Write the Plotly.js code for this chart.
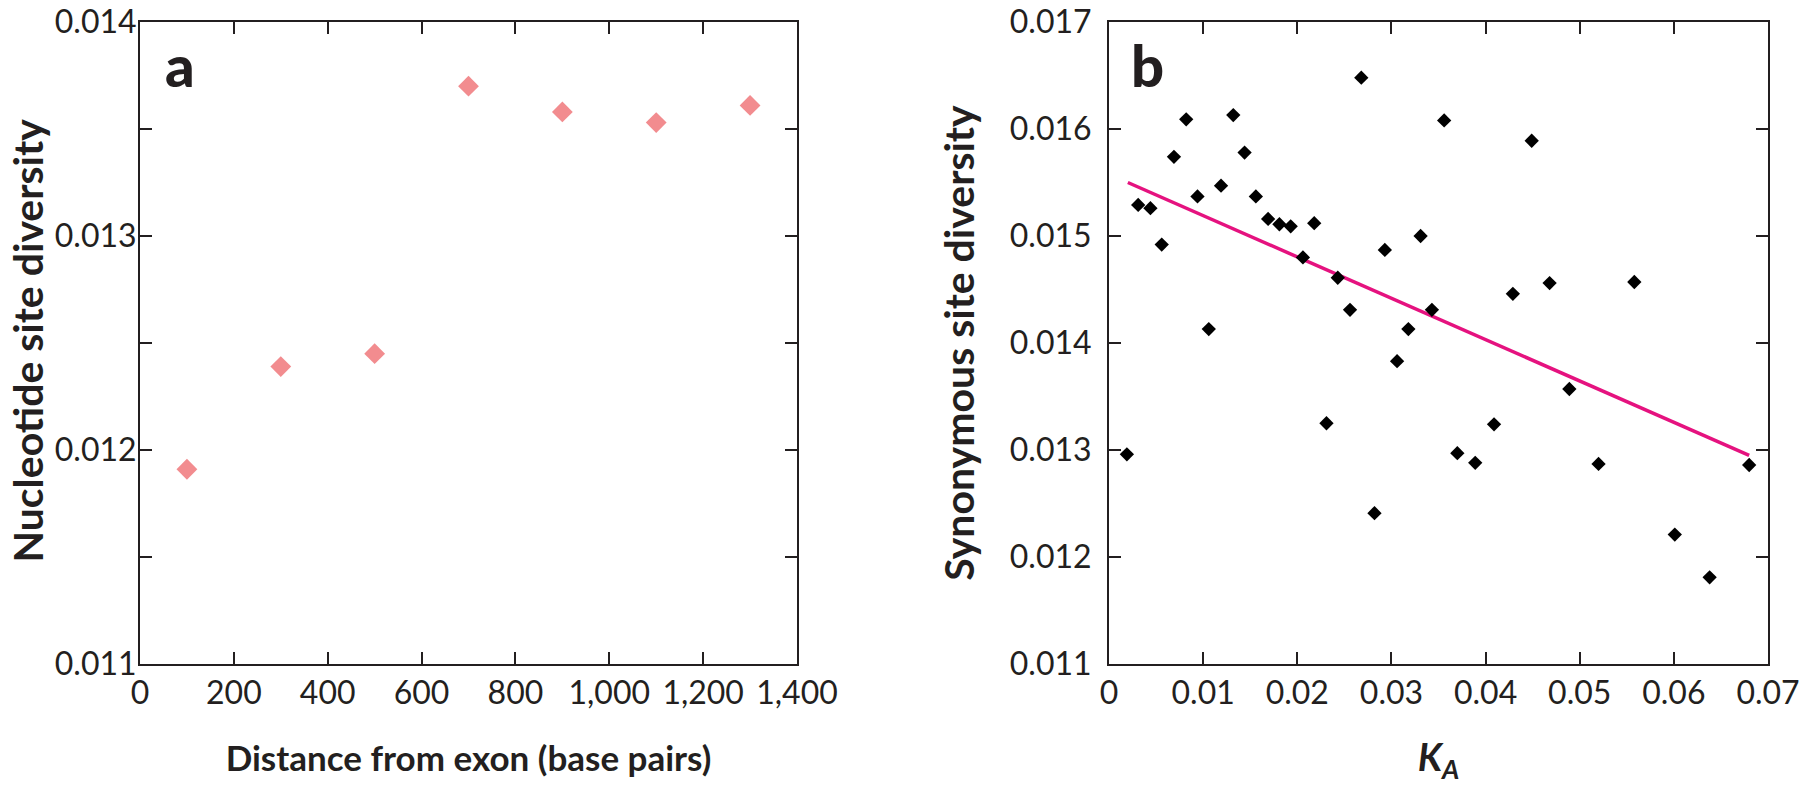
<!DOCTYPE html>
<html>
<head>
<meta charset="utf-8">
<script src="https://cdn.plot.ly/plotly-3.0.1.min.js"></script>
<style>html,body{margin:0;padding:0;background:#fff;}#chart{width:1800px;height:785px;}</style>
</head>
<body>
<div id="chart"></div>
<script>
// Panel a: nucleotide site diversity vs distance from exon
const distX = [100, 300, 500, 700, 900, 1100, 1300];
const nucDiv = [0.01191, 0.01239, 0.01245, 0.01370, 0.01358, 0.01353, 0.01361];

// Panel b: synonymous site diversity vs KA
const kaVals = [0.0019, 0.0031, 0.0044, 0.0056, 0.0069, 0.0082, 0.0094, 0.0106, 0.0119, 0.0132,
                0.0144, 0.0156, 0.0169, 0.0181, 0.0193, 0.0206, 0.0218, 0.0231, 0.0243, 0.0256,
                0.0268, 0.0282, 0.0293, 0.0306, 0.0318, 0.0331, 0.0343, 0.0356, 0.0370, 0.0389,
                0.0409, 0.0429, 0.0449, 0.0468, 0.0489, 0.0520, 0.0558, 0.0601, 0.0638, 0.0680];
const synDiv = [0.01296, 0.01529, 0.01526, 0.01492, 0.01574, 0.01609, 0.01537, 0.01413, 0.01547, 0.01613,
                0.01578, 0.01537, 0.01516, 0.01511, 0.01509, 0.01480, 0.01512, 0.01325, 0.01461, 0.01431,
                0.01648, 0.01241, 0.01487, 0.01383, 0.01413, 0.01500, 0.01431, 0.01608, 0.01297, 0.01288,
                0.01324, 0.01446, 0.01589, 0.01456, 0.01357, 0.01287, 0.01457, 0.01221, 0.01181, 0.01286];
// Regression line end points
const fitKa = [0.002, 0.068];
const fitSyn = [0.01550, 0.01295];

// Tick values and labels
const xTicksA = [0, 200, 400, 600, 800, 1000, 1200, 1400];
const xLabelsA = ['0', '200', '400', '600', '800', '1,000', '1,200', '1,400'];
const yTicksA = [0.011, 0.012, 0.013, 0.014];
const yLabelsA = ['0.011', '0.012', '0.013', '0.014'];
const yMinorA = [0.0115, 0.0125, 0.0135];
const xTicksB = [0, 0.01, 0.02, 0.03, 0.04, 0.05, 0.06, 0.07];
const xLabelsB = ['0', '0.01', '0.02', '0.03', '0.04', '0.05', '0.06', '0.07'];
const yTicksB = [0.011, 0.012, 0.013, 0.014, 0.015, 0.016, 0.017];
const yLabelsB = ['0.011', '0.012', '0.013', '0.014', '0.015', '0.016', '0.017'];

const ink = '#231F20';
const fam = 'Lato, "Open Sans", sans-serif';
const tickFont = {family: fam, size: 32, color: ink};
const xTitleFont = {family: fam, size: 35, color: ink, weight: 'bold'};
const yTitleFont = {family: fam, size: 41, color: ink, weight: 'bold'};

const baseAxis = {
  showline: true, linecolor: ink, linewidth: 2, mirror: 'ticks',
  ticks: 'inside', ticklen: 12, tickwidth: 2, tickcolor: ink,
  showgrid: false, zeroline: false, tickfont: tickFont, automargin: false,
  tickmode: 'array', ticklabeloverflow: 'allow'
};

const traces = [
  {x: distX, y: nucDiv, type: 'scatter', mode: 'markers', xaxis: 'x', yaxis: 'y',
   marker: {symbol: 'diamond', size: 16, color: '#F28C8F'}},
  {x: fitKa, y: fitSyn, type: 'scatter', mode: 'lines', xaxis: 'x2', yaxis: 'y2',
   line: {color: '#E5127F', width: 3.5}},
  {x: kaVals, y: synDiv, type: 'scatter', mode: 'markers', xaxis: 'x2', yaxis: 'y2',
   marker: {symbol: 'diamond', size: 11, color: '#000000'}}
];

const yDom = [1 - 664/785, 1 - 22/785];

const layout = {
  width: 1800, height: 785,
  margin: {l: 0, r: 0, t: 0, b: 0},
  paper_bgcolor: '#ffffff', plot_bgcolor: '#ffffff',
  showlegend: false,
  xaxis: Object.assign({}, baseAxis, {
    domain: [140/1800, 797/1800], range: [0, 1400],
    tickvals: xTicksA, ticktext: xLabelsA,
    title: {text: 'Distance from exon (base pairs)', font: xTitleFont, standoff: 36}
  }),
  yaxis: Object.assign({}, baseAxis, {
    domain: yDom, range: [0.011, 0.014],
    tickvals: yTicksA, ticktext: yLabelsA,
    ticklabelstandoff: -5,
    minor: {tickmode: 'array', tickvals: yMinorA, ticks: 'inside', ticklen: 12, tickwidth: 2, tickcolor: ink, showgrid: false}
  }),
  xaxis2: Object.assign({}, baseAxis, {
    anchor: 'y2',
    domain: [1109/1800, 1768/1800], range: [0, 0.07],
    tickvals: xTicksB, ticktext: xLabelsB,
    title: {text: '<i>K</i><sub><i>A</i></sub>', font: {family: fam, size: 38, color: ink, weight: 'bold'}, standoff: 40}
  }),
  yaxis2: Object.assign({}, baseAxis, {
    anchor: 'x2',
    domain: yDom, range: [0.011, 0.017],
    tickvals: yTicksB, ticktext: yLabelsB,
    ticklabelstandoff: 9,
    title: {text: 'Synonymous site diversity', font: yTitleFont, standoff: 22}
  }),
  annotations: [
    {text: 'Nucleotide site diversity', xref: 'paper', yref: 'paper', x: 0, y: 1 - 341/785,
     xanchor: 'left', yanchor: 'middle', textangle: -90, showarrow: false, font: yTitleFont},
    {text: 'a', xref: 'paper', yref: 'paper', x: 163/1800, y: 1 - 65/785, xanchor: 'left', yanchor: 'middle',
     showarrow: false, font: {family: fam, size: 58, color: ink, weight: 900}},
    {text: 'b', xref: 'paper', yref: 'paper', x: 1129/1800, y: 1 - 65/785, xanchor: 'left', yanchor: 'middle',
     showarrow: false, font: {family: fam, size: 58, color: ink, weight: 900}}
  ]
};

Plotly.newPlot('chart', traces, layout, {displayModeBar: false, staticPlot: true});
</script>
</body>
</html>
